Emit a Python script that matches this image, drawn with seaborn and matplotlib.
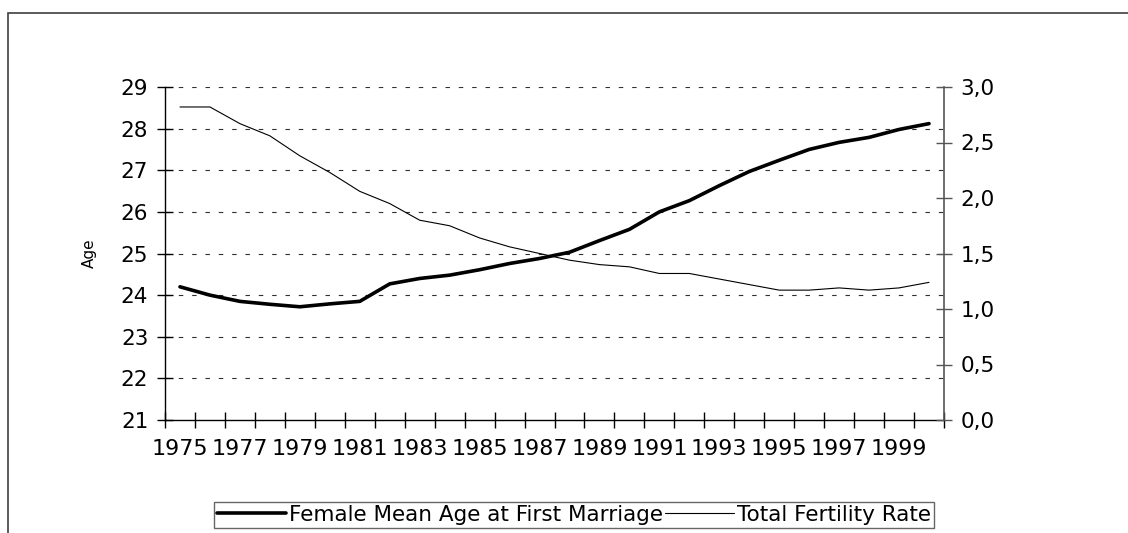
import matplotlib
matplotlib.use("Agg")
import matplotlib.pyplot as plt
import seaborn as sns
import pandas as pd
import numpy as np
from matplotlib.patches import Rectangle
from matplotlib.lines import Line2D

years = list(range(1975, 2001))
mean_age = [24.20, 24.00, 23.85, 23.78, 23.72, 23.79, 23.85, 24.27, 24.40, 24.48,
            24.61, 24.76, 24.88, 25.03, 25.31, 25.58, 26.00, 26.27, 26.63, 26.97,
            27.24, 27.50, 27.67, 27.79, 27.98, 28.12]
tfr = [2.82, 2.82, 2.67, 2.56, 2.38, 2.23, 2.06, 1.95, 1.80, 1.75,
       1.64, 1.56, 1.50, 1.44, 1.40, 1.38, 1.32, 1.32, 1.27, 1.22,
       1.17, 1.17, 1.19, 1.17, 1.19, 1.24]
age_ticks = [21, 22, 23, 24, 25, 26, 27, 28, 29]
tfr_ticks = [0.0, 0.5, 1.0, 1.5, 2.0, 2.5, 3.0]
label_years = years[::2]

df = pd.DataFrame({"idx": np.arange(len(years)), "year": years,
                   "age": mean_age, "tfr": tfr})

sns.set_style("white")
plt.rcParams['font.family'] = ['DejaVu Sans']
plt.rcParams.update({"text.color": "black", "axes.labelcolor": "black",
                     "xtick.color": "black", "ytick.color": "black"})

fig = plt.figure(figsize=(11.28, 5.33), dpi=100)
ax = fig.add_axes([165/1128, 113/533, 779/1128, 333/533])
ax2 = ax.twinx()

sns.lineplot(data=df, x="idx", y="age", ax=ax, color="black", linewidth=2.6)
sns.lineplot(data=df, x="idx", y="tfr", ax=ax2, color="black", linewidth=0.8)

ax.set_xlim(-0.5, len(years) - 0.5)
ax.set_ylim(21, 29)
ax2.set_ylim(0, 3.0)

# grid lines (dashed) at age ticks
for v in age_ticks[1:]:
    ax.axhline(v, color="#303030", linewidth=0.8, linestyle=(0, (4, 8)), zorder=0)

ax.set_yticks(age_ticks)
ax.set_yticklabels([str(v) for v in age_ticks], fontsize=15.5)
ax2.set_yticks(tfr_ticks)
ax2.set_yticklabels([f"{v:.1f}".replace(".", ",") for v in tfr_ticks], fontsize=15.5)

ax.set_xticks([years.index(y) for y in label_years])
ax.set_xticklabels([str(y) for y in label_years], fontsize=16)
ax.set_xticks(np.arange(-0.5, len(years)), minor=True)
ax.tick_params(axis="x", which="both", bottom=True)
ax.tick_params(axis="x", which="major", length=0, pad=14, labelcolor="black")
ax.tick_params(axis="x", which="minor", direction="inout", length=11, width=1, color="black")
ax.tick_params(axis="y", direction="inout", length=12, width=1, color="black", pad=6,
               left=True, labelcolor="black")
ax2.tick_params(axis="y", direction="inout", length=12, width=1, color="#555555", pad=6,
                right=True, labelcolor="black")

ax.set_xlabel("")
ax.set_ylabel("Age", fontsize=11, color="black")
ax.yaxis.set_label_coords(-0.087, 0.5)
ax2.set_ylabel("")

for a in (ax, ax2):
    a.spines["top"].set_visible(False)
ax.spines["left"].set_color("black")
ax.spines["bottom"].set_color("black")
ax.spines["right"].set_visible(False)
ax2.spines["left"].set_visible(False)
ax2.spines["bottom"].set_visible(False)
ax2.spines["right"].set_color("#555555")
ax2.spines["right"].set_linewidth(1.2)
ax.spines["left"].set_linewidth(1.0)
ax.spines["bottom"].set_linewidth(1.0)

# outer chart frame
fig.patches.append(Rectangle((8/1128, -0.2), 1.5, 1 - 13/533 + 0.2,
                             transform=fig.transFigure, fill=False,
                             edgecolor="#404040", linewidth=1.2, clip_on=False))

handles = [Line2D([], [], color="black", linewidth=2.6),
           Line2D([], [], color="black", linewidth=0.8)]
labels = ["Female Mean Age at First Marriage", "Total Fertility Rate"]
leg = fig.legend(handles, labels, loc="center", bbox_to_anchor=(574/1128, 18/533),
                 ncol=2, frameon=True, fancybox=False, fontsize=15.5,
                 handlelength=3.2, handletextpad=0.15, columnspacing=0.1,
                 borderpad=0.15, borderaxespad=0)
for t in leg.get_texts():
    t.set_color("black")
leg.get_frame().set_edgecolor("#404040")
leg.get_frame().set_linewidth(1.0)

fig.savefig("out.png", dpi=100)
